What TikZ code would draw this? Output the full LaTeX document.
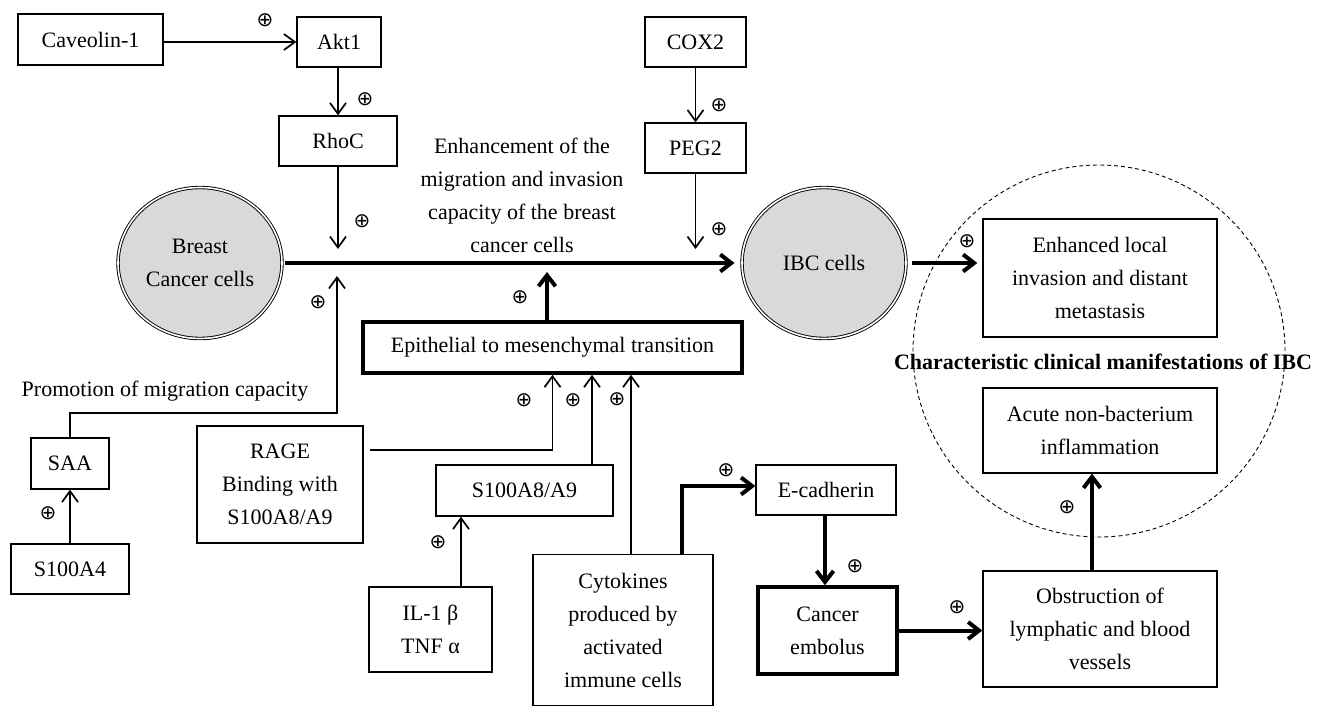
\documentclass[tikz,border=0pt]{standalone}
\usepackage{fontspec}
\setmainfont{Liberation Serif}
\newfontfamily\symfont{DejaVu Sans}
\usetikzlibrary{arrows.meta,shapes.geometric}
\definecolor{cellgray}{HTML}{D9D9D9}
\begin{document}
\begin{tikzpicture}[x=1pt,y=-1pt,
  txt/.style={inner sep=0pt,align=center,font=\fontsize{22}{33}\selectfont},
  box/.style={txt,draw,line width=1.3pt},
  boldbox/.style={box,line width=3.6pt},
  cell/.style={txt,ellipse,draw,double,line width=0.9pt,double distance=1.6pt,fill=cellgray,minimum width=164pt,minimum height=151pt},
  arr/.style={line width=1.7pt,-{Straight Barb[length=11pt,width=16pt]}},
  tarr/.style={line width=4pt,-{Straight Barb[length=11pt,width=17pt]}},
  pl/.style={inner sep=0pt,font=\symfont\fontsize{20}{20}\selectfont}]
\useasboundingbox (0,0) rectangle (1317,706);

% nodes
\node[box,minimum width=145pt,minimum height=51pt] (cav) at (90.5,39.5) {Caveolin-1};
\node[box,minimum width=84pt,minimum height=50pt] (akt) at (339,42) {Akt1};
\node[box,minimum width=118pt,minimum height=50pt] (rhoc) at (338,141) {RhoC};
\node[box,minimum width=101pt,minimum height=50pt] (cox) at (695.5,42) {COX2};
\node[box,minimum width=101pt,minimum height=50pt] (peg) at (695.5,148) {PEG2};
\node[cell] (bc) at (200,263) {Breast\\Cancer cells};
\node[cell] (ibc) at (824,263) {IBC cells};
\node[circle,draw,dashed,dash pattern=on 4pt off 3pt,line width=0.9pt,minimum size=372pt,inner sep=0pt] (clin) at (1099,351) {};
\node[box,minimum width=234pt,minimum height=118pt] (enh) at (1100,278) {Enhanced local\\invasion and distant\\metastasis};
\node[box,minimum width=234pt,minimum height=85pt] (acute) at (1100,430.5) {Acute non-bacterium\\inflammation};
\node[box,minimum width=234pt,minimum height=116pt] (obs) at (1100,629) {Obstruction of\\lymphatic and blood\\vessels};
\node[txt,font=\fontsize{22}{33}\selectfont\bfseries] (char) at (1103,362) {Characteristic clinical manifestations of IBC};
\node[txt] (mig) at (522,195) {Enhancement of the\\migration and invasion\\capacity of the breast\\cancer cells};
\node[boldbox,minimum width=379pt,minimum height=51pt] (emt) at (552.5,347.5) {Epithelial to mesenchymal transition};
\node[txt] (prom) at (165,391) {Promotion of migration capacity};
\node[box,minimum width=78pt,minimum height=51pt] (saa) at (70,463.5) {SAA};
\node[box,minimum width=118pt,minimum height=50pt] (s4) at (70,569) {S100A4};
\node[box,minimum width=166pt,minimum height=117pt] (rage) at (280,484.5) {RAGE\\Binding with\\S100A8/A9};
\node[box,minimum width=177pt,minimum height=51pt] (s89) at (524.5,490.5) {S100A8/A9};
\node[box,minimum width=123pt,minimum height=85pt] (il) at (430.5,629.5) {IL-1 β\\TNF α};
\node[box,minimum width=180pt,minimum height=151pt] (cyt) at (623,630) {Cytokines\\produced by\\activated\\immune cells};
\node[box,minimum width=140pt,minimum height=50pt] (ecad) at (826,490) {E-cadherin};
\node[boldbox,minimum width=139pt,minimum height=87pt] (ce) at (827.5,630.5) {Cancer\\embolus};

% free ends
\coordinate (j1) at (338,249);
\coordinate (j2) at (695.5,249);
\coordinate (bend) at (337,413);
\coordinate (j3) at (337,276);
\coordinate (j4) at (547,272);
\coordinate (rs) at (370,450);

% connectors
\draw[arr] (cav.east |- akt.west) -- (akt.west);
\draw[arr] (akt.south -| rhoc.north) -- (rhoc.north);
\draw[arr] (rhoc.south) -- (j1);
\draw[arr] (cox.south) -- (peg.north);
\draw[arr] (peg.south) -- (j2);
\draw[tarr,shorten >=7pt] ([xshift=3pt]bc.east) -- (ibc.west);
\draw[tarr] ([xshift=6pt]ibc.east) -- ([xshift=-5pt]enh.west |- ibc.east);
\draw[tarr] ([xshift=-5.5pt]emt.north) -- (j4);
\draw[arr] (saa.north) |- (bend) -- (j3);
\draw[arr] (s4.north) -- (saa.south);
\draw[arr] (rs) -| (emt.south);
\draw[arr] ([xshift=67.5pt]s89.north) -- ([xshift=67.5pt]s89.north |- emt.south);
\draw[arr] ([xshift=8pt]cyt.north) -- ([xshift=8pt]cyt.north |- emt.south);
\draw[arr] ([xshift=30.5pt]il.north) -- ([xshift=30.5pt]il.north |- s89.south);
\draw[tarr] ([xshift=59pt]cyt.north) |- ([yshift=4pt]ecad.west);
\draw[tarr] ([xshift=-1pt]ecad.south) -- ([xshift=-2.5pt]ce.north);
\draw[tarr] (ce.east) -- (ce.east -| obs.west);
\draw[tarr] ([xshift=-8pt]obs.north) -- ([xshift=-8pt]acute.south);

% plus signs
\node[pl] (p1) at (265,20) {⊕};
\node[pl] (p2) at (365,99) {⊕};
\node[pl] (p3) at (362,221) {⊕};
\node[pl] (p4) at (318,302) {⊕};
\node[pl] (p5) at (48,513) {⊕};
\node[pl] (p6) at (520,297) {⊕};
\node[pl] (p7) at (524,400) {⊕};
\node[pl] (p8) at (573,400) {⊕};
\node[pl] (p9) at (617,399) {⊕};
\node[pl] (p10) at (438,542) {⊕};
\node[pl] (p11) at (726,470) {⊕};
\node[pl] (p12) at (855,566) {⊕};
\node[pl] (p13) at (957,607) {⊕};
\node[pl] (p14) at (1067,507) {⊕};
\node[pl] (p15) at (719,105) {⊕};
\node[pl] (p16) at (719,229) {⊕};
\node[pl] (p17) at (967,241) {⊕};
\end{tikzpicture}
\end{document}
